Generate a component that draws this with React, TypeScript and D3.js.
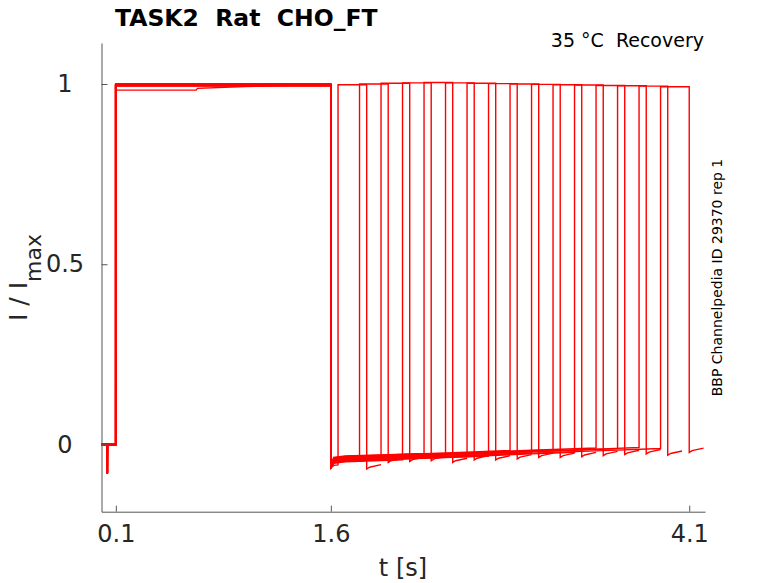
import React, { useEffect, useRef } from "react";
import * as d3 from "d3";

// ---- data ----
const xTicks = [0.1, 1.6, 4.1];
const yTicks = [0, 0.5, 1];

const condOn = 0.1;
const condOff = 1.6;
const testDuration = 0.2;
const tailDuration = 0.1;
const artifactTime = 0.04;
const artifactValue = -0.08;
const offsetDip = -0.065;

// start of the test pulse of each sweep (s)
const testStarts = [1.65, 1.8, 1.95, 2.1, 2.25, 2.4, 2.55, 2.7, 2.85, 3.0, 3.15, 3.3, 3.45, 3.6, 3.75, 3.9];
// normalized current during each test pulse
const testLevels = [0.998, 1.0, 1.002, 1.003, 1.004, 1.003, 1.002, 1.001, 1.0, 0.999, 0.998, 0.997, 0.996, 0.995, 0.994, 0.9925];
// tail current just after each test pulse ends
const tailStarts = [-0.068, -0.05, -0.047, -0.045, -0.05, -0.043, -0.043, -0.04, -0.036, -0.036, -0.034, -0.031, -0.028, -0.026, -0.03, -0.022];
// small per-sweep offsets of the recovery-interval current
const gapOffsets = [-0.016, -0.006, 0.004, -0.01, 0.006, -0.003, 0.001, -0.008, 0.005, -0.004, 0.002, -0.007, 0.003, -0.001, 0.0, -0.005];
// conditioning-pulse level of each sweep
const condLevels = [0.997, 0.999, 0.996, 1.0, 0.995, 0.998, 0.997, 0.999, 1.0, 0.996, 0.995, 0.998, 0.997, 0.999, 0.998, 0.996];
// one slower sweep during the conditioning pulse
const slowSweepTimes = [0.1, 0.66, 0.67, 1.0, 1.35, 1.6];
const slowSweepValues = [0.983, 0.983, 0.988, 0.993, 0.997, 0.997];
// recovery-interval current (band) vs time
const bandTimes = [1.6, 1.62, 1.7, 2.0, 2.5, 3.0, 3.5, 3.9];
const bandValues = [-0.05, -0.042, -0.038, -0.034, -0.027, -0.019, -0.012, -0.006];

const W = 778;
const H = 583;
const FONT = "'DejaVu Sans', sans-serif";

export default function App() {
  const xAxisRef = useRef<SVGGElement>(null);
  const yAxisRef = useRef<SVGGElement>(null);

  const x = d3.scaleLinear().domain([0, 4.21]).range([101.5, 705]);
  const y = d3.scaleLinear().domain([-0.1864, 1.1137]).range([511.7, 43]);
  const band = d3.scaleLinear().domain(bandTimes).range(bandValues).clamp(true);

  const line = d3
    .line<[number, number]>()
    .x((d) => x(d[0]))
    .y((d) => y(d[1]));

  const sweeps: [number, number][][] = testStarts.map((start, i) => {
    const pts: [number, number][] = [];
    const shift = (i % 3 - 1) * 0.002;
    pts.push(
      [0, 0],
      [artifactTime + shift - 0.001, 0],
      [artifactTime + shift, artifactValue],
      [artifactTime + shift + 0.001, 0],
      [condOn + shift, 0]
    );
    if (i === 0) {
      slowSweepTimes.forEach((t, j) => pts.push([t, slowSweepValues[j]]));
    } else {
      pts.push([condOn + shift, condLevels[i]], [condOff, condLevels[i]]);
    }
    pts.push([condOff, offsetDip]);
    const off = gapOffsets[i];
    bandTimes.forEach((t) => {
      if (t > condOff && t < start) pts.push([t, band(t) + off]);
    });
    pts.push([start, band(start) + off]);
    const end = start + testDuration;
    pts.push([start, testLevels[i]], [end, testLevels[i]]);
    const ts = tailStarts[i];
    pts.push([end, ts], [end + 0.02, ts + 0.005], [end + tailDuration, ts + 0.012]);
    return pts;
  });

  useEffect(() => {
    if (xAxisRef.current) {
      const g = d3.select(xAxisRef.current);
      g.call(
        d3
          .axisBottom(x)
          .tickValues(xTicks)
          .tickSizeInner(-6)
          .tickSizeOuter(0)
          .tickPadding(13)
          .tickFormat(d3.format(".1f"))
      );
      g.select(".domain").attr("stroke", "#555");
      g.selectAll(".tick line").attr("stroke", "#555");
      g.selectAll(".tick text").attr("fill", "#262626").attr("font-size", 24).attr("font-family", FONT);
    }
    if (yAxisRef.current) {
      const g = d3.select(yAxisRef.current);
      g.call(
        d3
          .axisLeft(y)
          .tickValues(yTicks)
          .tickSizeInner(-6)
          .tickSizeOuter(0)
          .tickFormat((d: any) => String(d))
      );
      g.select(".domain").attr("stroke", "#555");
      g.selectAll(".tick line").attr("stroke", "#555");
      g.selectAll(".tick text")
        .attr("fill", "#262626")
        .attr("font-size", 24)
        .attr("font-family", FONT)
        .attr("text-anchor", "middle")
        .attr("x", -36.5);
    }
  });

  return (
    <svg
      width={W}
      height={H}
      style={{ position: "absolute", left: 0, top: 0, background: "#fff" }}
      fontFamily={FONT}
    >
      <rect x={0} y={0} width={W} height={H} fill="#fff" />
      <g>
        {sweeps.map((s, i) => (
          <path key={i} d={line(s) || ""} fill="none" stroke="#ff0000" strokeWidth={1.4} />
        ))}
      </g>
      <g ref={xAxisRef} transform={`translate(0,${y.range()[0]})`} />
      <g ref={yAxisRef} transform={`translate(${x.range()[0]},0)`} />

      <text x={115} y={26} fontSize={23.5} fontWeight="bold" fill="#000" style={{ whiteSpace: "pre" }}>
        {"TASK2  Rat  CHO_FT"}
      </text>
      <text x={704} y={47} fontSize={19} textAnchor="end" fill="#000" style={{ whiteSpace: "pre" }}>
        {"35 °C  Recovery"}
      </text>
      <text x={403} y={576} fontSize={24} textAnchor="middle" fill="#262626">
        t [s]
      </text>
      <text transform="translate(27,321) rotate(-90)" fontSize={25} fill="#262626" style={{ whiteSpace: "pre" }}>
        {"I / I"}
        <tspan fontSize={22} dy={14}>
          max
        </tspan>
      </text>
      <text transform="translate(721.5,277.5) rotate(-90)" fontSize={14} textAnchor="middle" fill="#000">
        BBP Channelpedia ID 29370 rep 1
      </text>
    </svg>
  );
}
